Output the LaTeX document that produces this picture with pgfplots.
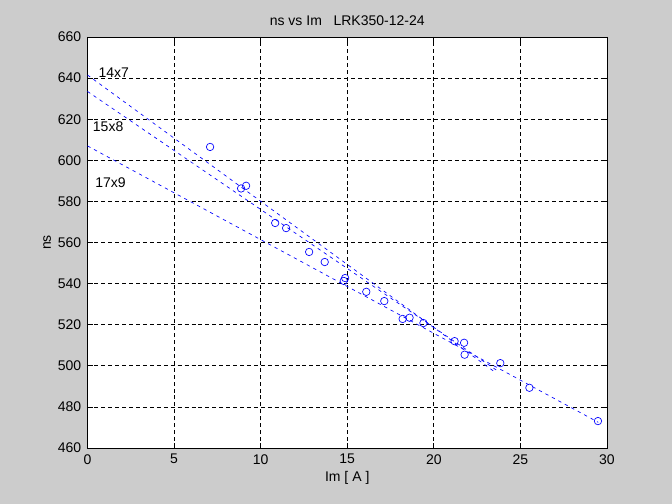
\documentclass[border=0pt]{standalone}
\usepackage{fontspec}
\setmainfont{Liberation Sans}
\usepackage{pgfplots}
\pgfplotsset{compat=1.18}
\definecolor{bggray}{RGB}{204,204,204}
\definecolor{mblue}{RGB}{0,0,255}
\begin{document}
\fontsize{10.5}{12}\selectfont
\begin{tikzpicture}
\fill[bggray] (-65.625pt,-42pt) rectangle (438.375pt,336pt);
\begin{axis}[
  scale only axis,
  width=389.6pt, height=308.25pt,
  xmin=0, xmax=30, ymin=460, ymax=660,
  xtick={0,5,...,30}, ytick={460,480,...,660},
  axis background/.style={fill=white},
  axis line style={black, line width=0.6pt},
  tick style={black, line width=0.5pt},
  tick align=inside, major tick length=4pt,
  xmajorgrids, ymajorgrids,
  major grid style={black, line width=0.5pt, dash pattern=on 3pt off 2.2pt},
  /pgf/number format/assume math mode=true,
  /pgf/number format/1000 sep={},
  ticklabel style={font=\fontsize{10.5}{12}\selectfont},
  xticklabel style={yshift=-1pt},
  yticklabel style={xshift=-1pt},
  title={ns vs Im \ \ LRK350-12-24},
  title style={yshift=-1pt},
  xlabel={Im [ A ]},
  ylabel={ns},
  xlabel style={yshift=2pt},
  ylabel style={yshift=-2pt},
  label style={font=\fontsize{10.5}{12}\selectfont},
  clip=true,
]
\addplot[only marks, mark=o, mark size=2.8pt, mblue, line width=0.5pt] coordinates {
(7.08,606.5) (8.87,586.3) (9.16,587.6) (10.84,569.5) (11.47,567.0)
(12.80,555.4) (13.70,550.5) (14.80,541.3) (14.88,542.7) (16.10,536.0)
(17.14,531.5) (18.20,522.8) (18.60,523.4) (19.40,520.8) (21.20,512.0)
(21.75,511.2) (21.78,505.4) (23.84,501.3) (25.52,489.3) (29.48,473.1)
};
\addplot[mblue, line width=0.5pt, dash pattern=on 2.5pt off 3pt] coordinates {(0,641.5) (23.6,496.5)};
\addplot[mblue, line width=0.5pt, dash pattern=on 2.5pt off 3pt] coordinates {(0,633.5) (23.6,498.0)};
\addplot[mblue, line width=0.5pt, dash pattern=on 2.5pt off 3pt] coordinates {(0,607.0) (29.5,472.5)};
\node[anchor=west, inner sep=0pt] at (axis cs:0.62,642.8) {14x7};
\node[anchor=west, inner sep=0pt] at (axis cs:0.30,616.3) {15x8};
\node[anchor=west, inner sep=0pt] at (axis cs:0.44,589.3) {17x9};
\end{axis}
\end{tikzpicture}
\end{document}
